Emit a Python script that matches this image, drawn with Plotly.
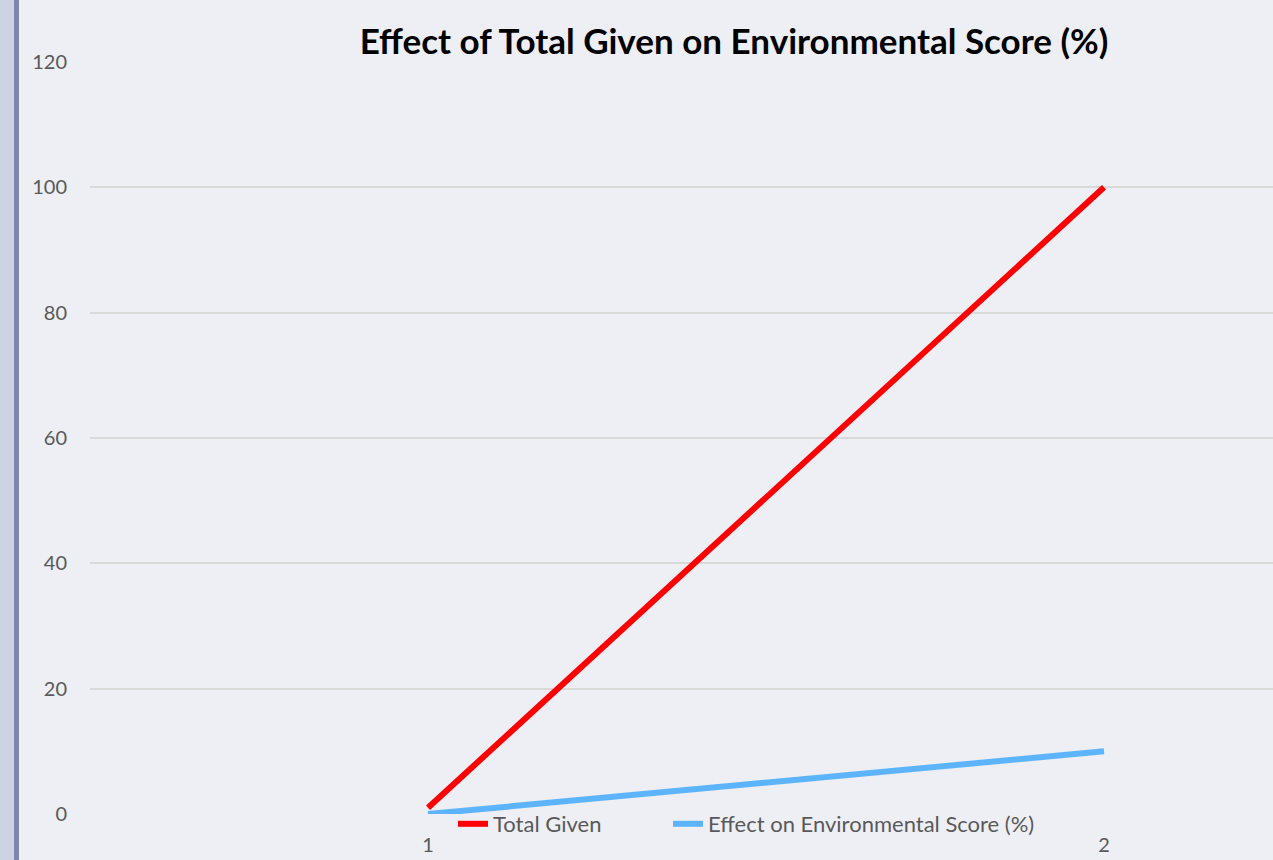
import plotly.graph_objects as go

categories = ["1", "2"]
total_given = [1, 100]
effect_env = [0, 10]
y_ticks = [0, 20, 40, 60, 80, 100, 120]

W, H = 1273, 860
L, R, T, B = 90, 0, 62, 46
pw = W - L - R
ph = H - T - B

fig = go.Figure()
fig.add_trace(go.Scatter(x=categories, y=total_given, mode="lines", name="Total Given",
                         line=dict(color="#ff0000", width=6), legend="legend"))
fig.add_trace(go.Scatter(x=categories, y=effect_env, mode="lines",
                         name="Effect on Environmental Score (%)",
                         line=dict(color="#5cb4ff", width=6), legend="legend2"))

# left window strip
fig.add_shape(type="rect", xref="paper", yref="paper", x0=-L / pw, x1=(14 - L) / pw,
              y0=-B / ph, y1=(H - B) / ph,
              fillcolor="#cdd3e2", line_width=0, layer="below")
fig.add_shape(type="rect", xref="paper", yref="paper", x0=(14 - L) / pw, x1=(19 - L) / pw,
              y0=-B / ph, y1=(H - B) / ph,
              fillcolor="#7b88a9", line_width=0, layer="below")

leg_common = dict(orientation="h", xanchor="left", y=-10 / ph, yanchor="middle",
                  bgcolor="rgba(0,0,0,0)", font=dict(size=22, color="#595959"))

fig.update_layout(
    width=W, height=H,
    margin=dict(l=L, r=R, t=T, b=B),
    paper_bgcolor="#edeff5",
    plot_bgcolor="#edeff5",
    font=dict(family="Lato", size=20, color="#595959"),
    title=dict(text="<b>Effect of Total Given on Environmental Score (%)</b>",
               x=734 / W, xanchor="center", y=1 - 42 / H, yanchor="middle",
               font=dict(size=35, color="#000000")),
    showlegend=True,
    legend=dict(x=(453 - L) / pw, **leg_common),
    legend2=dict(x=(668 - L) / pw, **leg_common),
    xaxis=dict(type="category", range=[-0.5, 1.25], showgrid=False, zeroline=False,
               showline=False, ticks="", ticklabelstandoff=17),
    yaxis=dict(range=[0, 120], tickvals=y_ticks, showgrid=True, gridcolor="#d9d9d9",
               gridwidth=1.5, zeroline=False, showline=False, ticks="",
               ticklabelstandoff=22),
)

fig.write_html("out.html", config={"displayModeBar": False},
               post_script="document.body.style.margin='0';")
